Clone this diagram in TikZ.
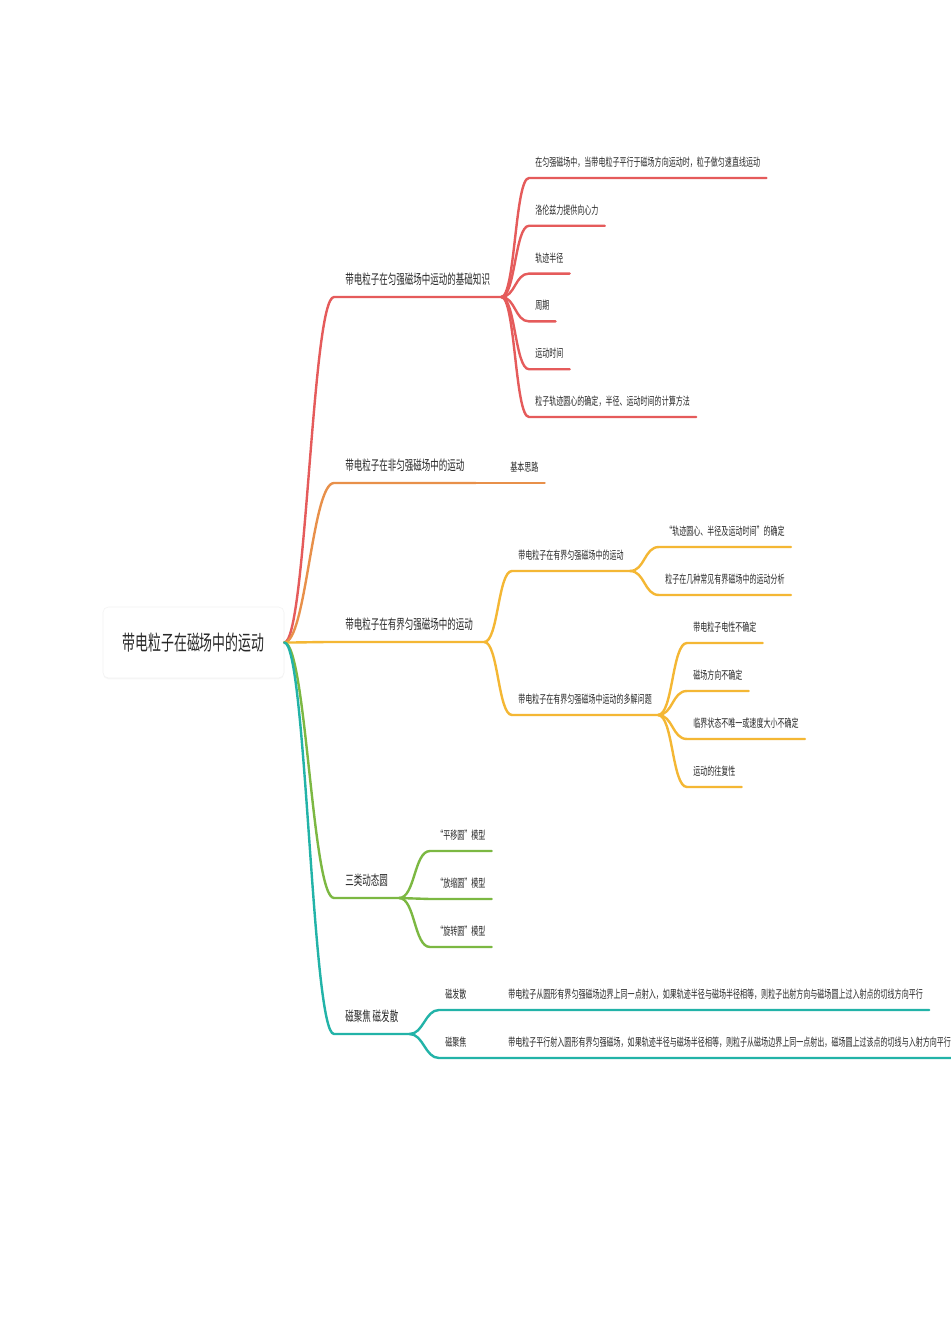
\documentclass[tikz,border=0pt]{standalone}
\usepackage{fontspec}
\usepackage{tikz}
\usetikzlibrary{shadows}
\newfontfamily\cjk[FakeStretch=0.62]{Noto Sans CJK SC}
\definecolor{mmred}{RGB}{229, 91, 91}
\definecolor{mmorange}{RGB}{232, 144, 74}
\definecolor{mmyellow}{RGB}{244, 183, 52}
\definecolor{mmgreen}{RGB}{124, 184, 66}
\definecolor{mmteal}{RGB}{34, 179, 168}
\definecolor{mmtext}{RGB}{40, 40, 40}

\tikzset{
  rootbox/.style={draw=black!5, fill=white, rounded corners=4pt,
    minimum width=135.75pt, minimum height=53.25pt, text=mmtext,
    font=\cjk\fontsize{15.6pt}{18pt}\selectfont,
    drop shadow={opacity=0.06, shadow xshift=0pt, shadow yshift=-1pt}},
  topic/.style={anchor=south west, inner xsep=8.25pt, inner ysep=0pt,
    text depth=8.9pt, text=mmtext, font=\cjk\fontsize{10.3pt}{12pt}\selectfont},
  leaf/.style={anchor=south west, inner xsep=4.5pt, inner ysep=0pt,
    text depth=8.4pt, text=mmtext, font=\cjk\fontsize{8.5pt}{10pt}\selectfont},
  branch/.style={line width=1.8pt, line cap=round}
}

\begin{document}
\begin{tikzpicture}[x=0.75pt, y=-0.75pt]
\fill[white] (0,0) rectangle (950,1344);
\useasboundingbox (0,0) rectangle (950,1344);

% root
\node[rootbox] (root) at (193.5,642.5) {带电粒子在磁场中的运动};

% main topics
\node[topic] (basics) at (334,297) {带电粒子在匀强磁场中运动的基础知识};
\node[topic] (nonuni) at (334,483) {带电粒子在非匀强磁场中的运动};
\node[topic] (bounded) at (334,642) {带电粒子在有界匀强磁场中的运动};
\node[topic] (dyncircle) at (334,898) {三类动态圆};
\node[topic] (focus) at (334,1034) {磁聚焦 磁发散};

\draw[branch, mmred] (root.east) .. controls +(22,0) and +(-22,0) .. (basics.south west) -- (basics.south east);
\draw[branch, mmorange] (root.east) .. controls +(22,0) and +(-22,0) .. (nonuni.south west) -- (nonuni.south east);
\draw[branch, mmyellow] (root.east) .. controls +(22,0) and +(-22,0) .. (bounded.south west) -- (bounded.south east);
\draw[branch, mmgreen] (root.east) .. controls +(22,0) and +(-22,0) .. (dyncircle.south west) -- (dyncircle.south east);
\draw[branch, mmteal] (root.east) .. controls +(22,0) and +(-22,0) .. (focus.south west) -- (focus.south east);

% basics
\foreach \n/\t [count=\i from 0] in {r1/在匀强磁场中，当带电粒子平行于磁场方向运动时，粒子做匀速直线运动,
    r2/洛伦兹力提供向心力, r3/轨迹半径, r4/周期, r5/运动时间,
    r6/粒子轨迹圆心的确定，半径、运动时间的计算方法} {
  \node[leaf] (\n) at (529,178+47.8*\i) {\t};
  \draw[branch, mmred] (basics.south east) .. controls +(14,0) and +(-14,0) .. (\n.south west) -- (\n.south east);
}

% non-uniform field
\node[leaf] (idea) at (504,483) {基本思路};
\draw[branch, mmorange] (nonuni.south east) -- (idea.south west) -- (idea.south east);

% bounded field
\node[leaf] (motion) at (512,571) {带电粒子在有界匀强磁场中的运动};
\node[leaf] (multi) at (512,715) {带电粒子在有界匀强磁场中运动的多解问题};
\foreach \n in {motion, multi}
  \draw[branch, mmyellow] (bounded.south east) .. controls +(14,0) and +(-14,0) .. (\n.south west) -- (\n.south east);

\node[leaf] (center) at (659,547) {“轨迹圆心、半径及运动时间”的确定};
\node[leaf] (cases) at (659,595) {粒子在几种常见有界磁场中的运动分析};
\foreach \n in {center, cases}
  \draw[branch, mmyellow] (motion.south east) .. controls +(15,0) and +(-15,0) .. (\n.south west) -- (\n.south east);

\foreach \n/\t [count=\i from 0] in {m1/带电粒子电性不确定, m2/磁场方向不确定,
    m3/临界状态不唯一或速度大小不确定, m4/运动的往复性} {
  \node[leaf] (\n) at (687,643+48*\i) {\t};
  \draw[branch, mmyellow] (multi.south east) .. controls +(15,0) and +(-15,0) .. (\n.south west) -- (\n.south east);
}

% dynamic circles
\foreach \n/\t [count=\i from 0] in {shift/“平移圆”模型, scale/“放缩圆”模型, turn/“旋转圆”模型} {
  \node[leaf] (\n) at (430,851+48*\i) {\t};
  \draw[branch, mmgreen] (dyncircle.south east) .. controls +(16,0) and +(-16,0) .. (\n.south west) -- (\n.south east);
}

% focusing / diverging
\node[leaf] (diverge) at (439,1010) {磁发散};
\node[leaf] (converge) at (439,1058) {磁聚焦};
\node[leaf] (divtext) at (502,1010) {带电粒子从圆形有界匀强磁场边界上同一点射入，如果轨迹半径与磁场半径相等，则粒子出射方向与磁场圆上过入射点的切线方向平行};
\node[leaf] (context) at (502,1058) {带电粒子平行射入圆形有界匀强磁场，如果轨迹半径与磁场半径相等，则粒子从磁场边界上同一点射出，磁场圆上过该点的切线与入射方向平行};
\draw[branch, mmteal] (focus.south east) .. controls +(14,0) and +(-14,0) .. (diverge.south west) -- (diverge.south east) -- (divtext.south west) -- (divtext.south east);
\draw[branch, mmteal] (focus.south east) .. controls +(14,0) and +(-14,0) .. (converge.south west) -- (converge.south east) -- (context.south west) -- (context.south east);
\end{tikzpicture}
\end{document}
